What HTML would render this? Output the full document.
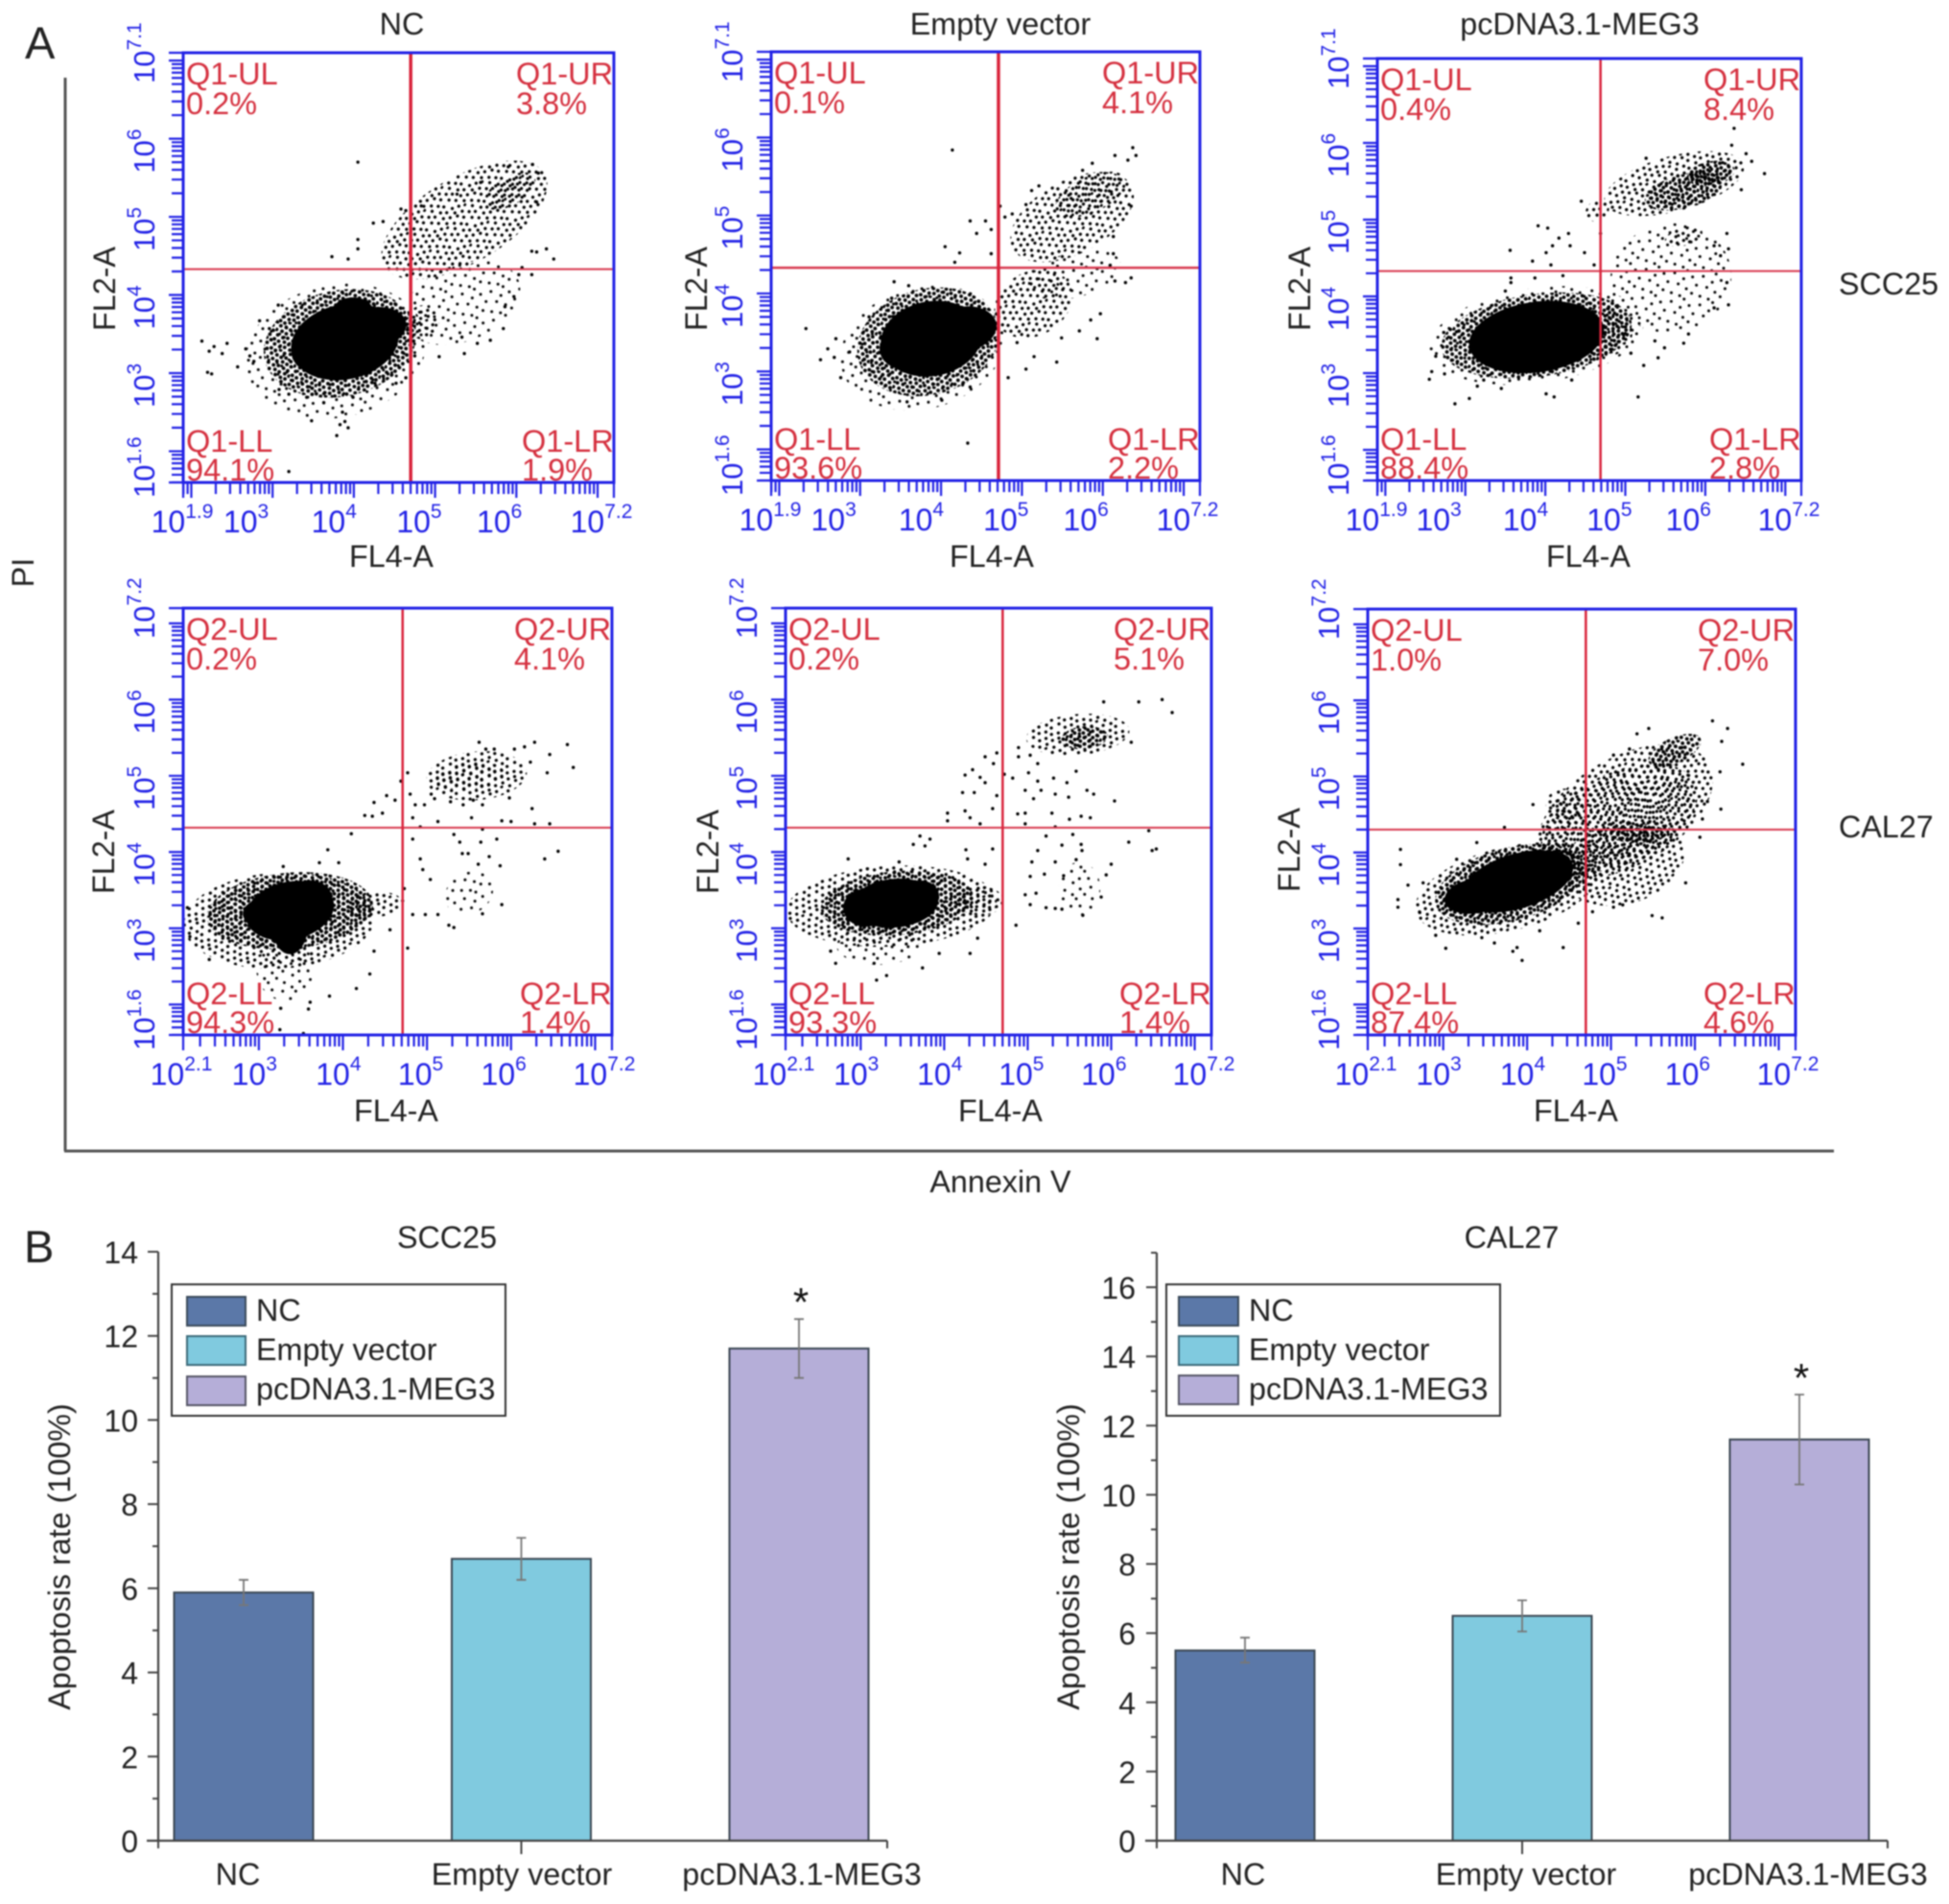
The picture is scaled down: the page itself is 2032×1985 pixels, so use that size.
<!DOCTYPE html>
<html lang="en">
<head>
<meta charset="utf-8">
<title>Apoptosis flow cytometry and bar charts</title>
<style>
html,body{margin:0;padding:0;background:#fff;}
#figure{display:block;filter:blur(.7px);font-family:"Liberation Sans",Arial,sans-serif;}
.lab{font-size:32.3px;fill:#222;}
.big{font-size:47px;fill:#222;}
</style>
</head>
<body>
<svg id="figure" xmlns="http://www.w3.org/2000/svg" width="2032" height="1985" viewBox="0 0 2032 1985">
<defs>
<pattern id="dots-sparse" patternUnits="userSpaceOnUse" width="30" height="30" patternTransform="rotate(17)"><path d="M3 4h0M14 2h0M24 7h0M8 12h0M19 13h0M28 17h0M4 21h0M13 23h0M22 25h0M27 28h0" stroke="#000" stroke-width="3" stroke-linecap="round" fill="none"/></pattern>
<pattern id="dots-medium" patternUnits="userSpaceOnUse" width="30" height="30" patternTransform="rotate(-23)"><path d="M2 3h0M9 1h0M17 4h0M25 2h0M6 9h0M13 8h0M21 10h0M28 8h0M3 15h0M10 14h0M17 16h0M24 15h0M7 21h0M14 22h0M21 21h0M28 23h0M4 27h0M12 28h0M19 27h0M26 28h0" stroke="#000" stroke-width="3.3" stroke-linecap="round" fill="none"/></pattern>
<pattern id="dots-dense" patternUnits="userSpaceOnUse" width="30" height="30" patternTransform="rotate(31)"><path d="M2 2h0M7 3h0M12 1h0M17 3h0M23 2h0M28 4h0M4 7h0M10 7h0M15 8h0M20 7h0M26 9h0M1 12h0M7 12h0M12 13h0M18 12h0M23 13h0M28 14h0M4 17h0M10 18h0M15 17h0M21 18h0M26 19h0M2 22h0M7 23h0M13 22h0M18 23h0M24 23h0M29 24h0M4 27h0M10 28h0M15 27h0M21 28h0M26 28h0" stroke="#000" stroke-width="3.8" stroke-linecap="round" fill="none"/></pattern>
</defs>

<text class="big" x="26" y="61">A</text>
<text class="big" x="25" y="1316">B</text>

<text class="lab" x="419" y="36" text-anchor="middle">NC</text>
<text class="lab" x="1043" y="36" text-anchor="middle">Empty vector</text>
<text class="lab" x="1647" y="36" text-anchor="middle">pcDNA3.1-MEG3</text>
<text class="lab" x="1917" y="307">SCC25</text>
<text class="lab" x="1917" y="873">CAL27</text>

<line x1="68" y1="81" x2="68" y2="1200" stroke="#555" stroke-width="3"/>
<line x1="67" y1="1200" x2="1912" y2="1200" stroke="#555" stroke-width="3"/>
<text class="lab" x="35" y="597" text-anchor="middle" transform="rotate(-90 35 597)">PI</text>
<text class="lab" x="1043" y="1243" text-anchor="middle">Annexin V</text>

<text class="lab" x="408" y="591" text-anchor="middle">FL4-A</text>
<text class="lab" x="1034" y="591" text-anchor="middle">FL4-A</text>
<text class="lab" x="1656" y="591" text-anchor="middle">FL4-A</text>
<text class="lab" x="413" y="1169" text-anchor="middle">FL4-A</text>
<text class="lab" x="1043" y="1169" text-anchor="middle">FL4-A</text>
<text class="lab" x="1643" y="1169" text-anchor="middle">FL4-A</text>
<text class="lab" x="120" y="301" text-anchor="middle" transform="rotate(-90 120 301)">FL2-A</text>
<text class="lab" x="737" y="301" text-anchor="middle" transform="rotate(-90 737 301)">FL2-A</text>
<text class="lab" x="1366" y="301" text-anchor="middle" transform="rotate(-90 1366 301)">FL2-A</text>
<text class="lab" x="119" y="888" text-anchor="middle" transform="rotate(-90 119 888)">FL2-A</text>
<text class="lab" x="749" y="888" text-anchor="middle" transform="rotate(-90 749 888)">FL2-A</text>
<text class="lab" x="1355" y="886" text-anchor="middle" transform="rotate(-90 1355 886)">FL2-A</text>

<g id="flow-panels"></g>

<text class="lab" x="466" y="1301" text-anchor="middle">SCC25</text>
<text class="lab" x="1576" y="1301" text-anchor="middle">CAL27</text>
<text class="lab" x="73" y="1623" text-anchor="middle" transform="rotate(-90 73 1623)">Apoptosis rate (100%)</text>
<text class="lab" x="1125" y="1623" text-anchor="middle" transform="rotate(-90 1125 1623)">Apoptosis rate (100%)</text>

<g id="bar-charts"></g>

<g>
<rect x="179" y="1339" width="348" height="137" fill="#fff" stroke="#333" stroke-width="2"/>
<rect x="195" y="1352" width="61" height="30" fill="#5b78a8" stroke="#3b4a5a" stroke-width="2"/>
<rect x="195" y="1393" width="61" height="30" fill="#80cadf" stroke="#3b6a7a" stroke-width="2"/>
<rect x="195" y="1435" width="61" height="30" fill="#b5aed8" stroke="#555566" stroke-width="2"/>
<text class="lab" x="267" y="1377">NC</text>
<text class="lab" x="267" y="1418">Empty vector</text>
<text class="lab" x="267" y="1459">pcDNA3.1-MEG3</text>
</g>
<g>
<rect x="1216" y="1339" width="348" height="137" fill="#fff" stroke="#333" stroke-width="2"/>
<rect x="1229" y="1352" width="62" height="30" fill="#5b78a8" stroke="#3b4a5a" stroke-width="2"/>
<rect x="1229" y="1393" width="62" height="30" fill="#80cadf" stroke="#3b6a7a" stroke-width="2"/>
<rect x="1229" y="1434" width="62" height="30" fill="#b5aed8" stroke="#555566" stroke-width="2"/>
<text class="lab" x="1302" y="1377">NC</text>
<text class="lab" x="1302" y="1418">Empty vector</text>
<text class="lab" x="1302" y="1459">pcDNA3.1-MEG3</text>
</g>
</svg>

<script>
/* ---------- tick labels ---------- */
const xTicksRow1=['1.9','3','4','5','6','7.2'];
const xTicksRow2=['2.1','3','4','5','6','7.2'];
const yTicksRow1=['1.6','3','4','5','6','7.1'];
const yTicksRow2=['1.6','3','4','5','6','7.2'];

/* ---------- quadrant gates and printed percentages ---------- */
const gateNamesQ1=['Q1-UL','Q1-UR','Q1-LL','Q1-LR'];
const gateNamesQ2=['Q2-UL','Q2-UR','Q2-LL','Q2-LR'];
const pctA=['0.2%','3.8%','94.1%','1.9%'];
const pctB=['0.1%','4.1%','93.6%','2.2%'];
const pctC=['0.4%','8.4%','88.4%','2.8%'];
const pctD=['0.2%','4.1%','94.3%','1.4%'];
const pctE=['0.2%','5.1%','93.3%','1.4%'];
const pctF=['1.0%','7.0%','87.4%','4.6%'];
const gateA=[4.70,4.33];
const gateB=[4.71,4.33];
const gateC=[4.69,4.33];
const gateD=[4.71,4.32];
const gateE=[4.70,4.32];
const gateF=[4.70,4.30];

/* ---------- dense populations, in log10 fluorescence units (level 0-2 speckle, 3 saturated) ---------- */
const regAX=[5.33,5.36,3.78,3.83,5.92,4.85,3.89,4.22,3.99,3.51];
const regAY=[3.9,4.96,3.28,3.38,5.33,3.65,3.40,3.57,3.81,3.28];
const regARx=[.75,1.14,1.12,.95,.35,.2,.67,.43,.24,.28];
const regARy=[.49,.55,.85,.68,.18,.22,.48,.27,.16,.27];
const regATilt=[-22,-30,-12,-12,-30,0,-12,-10,0,0];
const regALevel=[0,1,0,2,1,1,3,3,3,3];

const regBX=[5.65,5.14,3.77,3.84,5.62,5.85,3.88,4.27,3.56];
const regBY=[4.24,3.87,3.3,3.38,4.98,5.27,3.42,3.54,3.29];
const regBRx=[.59,.51,1.03,.89,.83,.47,.63,.42,.32];
const regBRy=[.29,.41,.78,.68,.47,.23,.48,.29,.27];
const regBTilt=[-15,-30,-15,-15,-28,-25,-10,-10,0];
const regBLevel=[0,1,0,2,1,1,3,3,3];

const regCX=[5.57,5.61,5.73,3.89,3.89,4.69,5.73,6.07,4.65,3.89,3.45,4.33];
const regCY=[4.24,5.47,4.78,3.49,3.49,3.53,5.37,5.6,5.12,3.47,3.39,3.57];
const regCRx=[.76,.9,.24,1.35,1.2,.4,.5,.3,.16,.85,.36,.36];
const regCRy=[.71,.36,.12,.62,.54,.33,.22,.16,.13,.46,.25,.27];
const regCTilt=[-10,-15,-15,-8,-8,0,-15,-10,-35,-8,0,0];
const regCLevel=[0,1,1,0,2,1,2,2,1,3,3,3];

const regDX=[5.5,3.31,3.24,3.37,4.37,5.59,5.5,3.37,3.37,3.6,3.04];
const regDY=[3.46,2.47,3.1,3.23,3.31,5.0,5.0,3.23,3.02,3.4,3.19];
const regDRx=[.3,.34,1.14,.99,.34,.6,.42,.53,.21,.27,.23];
const regDRy=[.27,.42,.63,.5,.17,.32,.18,.38,.36,.23,.19];
const regDTilt=[-30,0,-3,-5,-5,-5,-5,-12,0,0,0];
const regDLevel=[0,0,1,2,1,1,1,3,3,3,3];

const regEX=[5.62,3.21,3.37,3.44,4.44,5.6,5.68,3.41,3.06,3.71];
const regEY=[3.52,2.77,3.29,3.33,3.36,5.54,5.5,3.33,3.27,3.42];
const regERx=[.25,.5,1.26,.92,.27,.62,.28,.52,.27,.23];
const regERy=[.35,.25,.53,.42,.19,.27,.15,.32,.25,.21];
const regETilt=[0,0,-3,-5,0,-5,-5,-5,0,0];
const regELevel=[0,0,1,2,1,1,2,3,3,3];

const regFX=[3.77,5.17,5.1,5.14,3.8,5.76,5.32,4.45,3.88,3.39,4.23];
const regFY=[3.52,4.54,4.45,3.87,3.58,5.34,4.25,4.63,3.62,3.43,3.77];
const regFRx=[1.13,1.15,1.0,.75,.92,.34,.34,.23,.69,.38,.32];
const regFRy=[.55,.71,.6,.55,.48,.17,.13,.21,.36,.23,.25];
const regFTilt=[-14,-30,-25,-15,-15,-25,0,0,-17,-10,-10];
const regFLevel=[1,1,1,1,2,2,2,1,3,3,3];

/* ---------- individually readable events, in log10 fluorescence units ---------- */
const evAX=[4.05,2.13,2.28,2.44,2.38,2.22,2.20,2.25,2.57,2.67,2.72,2.77,2.84,3.07,2.96,3.20,3.48,3.79,3.86,3.89,3.93,3.83,3.73,3.93,4.05,4.05,4.24,4.36,4.58,4.83,4.64,5.05,5.36,5.52,5.68,5.84,4.64,4.52,6.46,6.37,6.19,6.25,6.07,6.19,6.03,6.20,5.90,5.56,5.27,6.27,6.25,5.97,5.86,5.33,4.75,3.63,3.99,3.42,3.2,3.08,4.26,4.42];
const evAY=[5.70,3.41,3.34,3.38,3.25,3.28,3.01,2.99,3.08,3.31,3.22,3.15,3.67,3.87,3.57,1.74,2.39,2.20,2.50,2.38,2.30,2.34,4.49,4.46,4.71,4.59,4.92,4.94,5.10,5.14,5.08,3.21,3.25,3.38,3.42,3.57,2.94,2.87,4.46,4.59,4.56,4.55,4.35,4.26,4.26,5.67,5.64,5.44,5.29,5.56,5.19,3.98,3.85,3.46,3.22,2.62,2.69,2.69,2.73,2.79,2.87,2.99];

const evBX=[4.14,2.33,2.51,2.70,2.60,2.68,2.76,2.87,3.11,3.42,3.60,3.39,4.33,3.58,4.01,4.27,4.36,4.83,5.05,5.43,5.15,4.94,5.93,5.49,5.71,5.97,5.85,4.05,4.36,4.55,4.44,4.23,4.17,4.62,4.62,6.37,6.41,6.31,6.15,5.87,5.75,5.21,5.12,6.35,6.35,6.28,6.15,6.13,6.13,4.73,4.79,4.88,5.05,5.93,6.09];
const evBY=[5.84,3.55,3.15,3.42,3.29,3.18,2.92,3.25,3.70,4.15,4.10,3.94,2.08,2.61,2.63,2.84,2.80,2.92,3.03,3.12,3.19,3.37,3.42,3.43,3.52,3.74,3.66,4.60,4.93,4.93,4.77,4.52,4.40,4.82,4.51,5.87,5.77,5.71,5.77,5.67,5.58,5.38,5.32,5.12,4.20,4.14,4.16,4.51,4.73,5.12,4.98,5.02,5.14,4.32,4.36];

const evCX=[6.36,6.74,6.58,6.51,6.33,5.26,6.45,3.91,4.03,3.56,3.84,3.57,3.57,3.50,3.87,4.01,4.09,4.17,4.29,4.07,4.31,4.45,4.49,4.61,4.22,4.69,6.27,6.29,6.19,6.11,6.27,6.29,6.11,5.79,5.73,5.37,5.49,5.41,5.23,5.16,5.07,2.87,3.05,2.55,2.58,2.74,3.15,3.23,3.45,4.01,4.11,4.33,2.63,2.73,2.89];
const evCY=[6.19,5.60,5.76,5.86,5.97,5.80,5.39,4.92,4.89,4.60,4.46,4.24,4.18,4.07,4.24,4.57,4.66,4.76,4.82,4.41,4.66,5.24,4.57,4.41,4.27,4.82,4.82,4.62,4.53,4.66,4.18,3.89,3.85,3.51,3.39,3.42,3.33,3.20,3.10,2.69,3.26,2.60,2.67,2.92,3.02,2.99,2.83,2.91,2.80,2.73,2.69,2.91,3.22,3.53,3.54];

const evDX=[5.62,6.28,6.67,6.46,6.74,6.43,6.23,6.16,6.04,5.80,5.70,4.69,4.77,4.80,4.52,4.62,4.37,4.26,4.35,4.47,4.86,4.97,5.09,5.05,5.28,5.43,5.55,5.66,5.98,6.25,4.83,5.13,5.53,5.89,6.00,6.28,6.46,4.92,5.66,5.32,4.83,5.83,5.39,5.64,6.56,6.40,4.92,4.95,5.04,5.42,5.49,5.87,5.74,5.61,5.89,5.26,5.32,4.83,4.98,5.13,5.66,4.77,4.73,4.71,4.10,3.82,3.95,3.72,3.29,4.16,3.84,3.61,3.59,3.26,2.41,4.32,3.25,4.37,4.56,2.15,2.18,3.53];
const evDY=[5.44,5.44,5.41,5.28,5.11,5.04,5.18,5.38,5.35,5.35,5.35,4.93,5.04,4.76,4.74,4.68,4.65,4.48,4.47,4.51,4.62,4.62,4.70,4.76,4.66,4.62,4.68,4.62,4.71,4.57,4.45,4.40,4.45,4.41,4.40,4.37,4.37,4.33,4.30,4.23,4.17,4.17,4.13,4.13,4.01,3.91,3.91,3.77,3.64,3.98,3.98,3.82,3.94,3.84,3.31,3.04,3.01,3.18,3.18,3.18,3.19,2.74,3.52,3.36,4.24,4.03,3.86,3.86,3.81,2.21,2.11,2.03,1.94,1.95,2.59,2.40,1.67,2.70,2.98,3.27,2.89,1.62];

const evEX=[6.61,6.73,6.33,5.91,6.24,6.04,6.45,6.21,6.49,6.54,6.00,5.94,5.88,4.86,3.71,3.83,3.77,3.63,2.85,3.08,3.46,4.49,4.63,4.59,4.34,4.25,4.43,4.49,4.22,4.36,4.63,4.04,4.04,4.25,4.31,4.43,4.58,4.72,4.82,4.89,4.89,5.03,5.12,5.01,5.12,5.31,5.47,5.58,4.97,5.07,5.16,5.33,5.49,5.71,5.79,4.88,4.97,5.29,5.64,5.75,4.97,5.33,5.50,5.22,5.54,5.64,5.41,5.12,5.65,4.26,4.28,4.58,4.49,5.05,5.33,5.58,5.03,5.20,5.43,4.97,5.10,5.03,5.22,5.33,5.41,5.66,3.94,4.31,3.74,2.70,3.19,3.31,3.16,2.64,4.40];
const evEY=[6.00,5.83,5.97,5.97,5.44,4.67,4.28,4.13,4.02,4.04,3.84,3.70,3.41,3.04,4.21,4.17,4.08,4.10,3.91,3.78,3.87,5.25,5.30,5.16,5.08,5.01,4.98,4.91,4.78,4.78,4.74,4.51,4.41,4.54,4.45,4.37,4.57,5.02,4.97,5.37,5.25,5.27,5.16,5.04,4.93,4.97,4.91,5.06,4.81,4.70,4.81,4.76,4.72,4.81,4.76,4.50,4.51,4.51,4.47,4.45,4.37,4.33,4.43,4.21,4.23,4.10,4.09,4.02,4.02,4.03,3.91,4.04,3.84,3.87,3.87,3.90,3.68,3.71,3.69,3.44,3.46,3.31,3.27,3.26,3.25,3.17,2.67,2.67,2.48,2.54,2.32,2.38,2.54,2.70,2.87];

const evFX=[2.49,2.49,2.58,2.46,2.46,2.72,2.76,2.91,3.03,3.61,3.83,3.88,3.94,4.43,3.40,3.16,3.73,4.07,5.31,5.45,6.21,6.39,6.32,6.57,6.30,6.31,6.15,6.09,6.06,5.89,5.49,5.61,5.14,5.03,4.78,4.61,4.15,3.46,5.03,5.22];
const evFY=[4.04,3.84,3.57,3.38,3.28,3.21,3.60,2.91,2.74,2.81,2.70,2.75,2.58,2.75,4.13,3.91,4.33,4.63,5.56,5.63,5.73,5.63,5.46,5.16,5.06,4.57,4.67,4.44,4.20,3.60,3.17,3.14,3.31,3.28,3.22,3.07,2.97,2.88,5.28,5.36];

/* ---------- bar chart values ---------- */
const barCategories=['NC','Empty vector','pcDNA3.1-MEG3'];
const scc25Mean=[5.9,6.7,11.7];
const scc25Upper=[6.2,7.2,12.4];
const scc25Lower=[5.6,6.2,11.0];
const cal27Mean=[5.5,6.5,11.6];
const cal27Upper=[5.87,6.95,12.9];
const cal27Lower=[5.15,6.05,10.3];
const scc25YTicks=[0,2,4,6,8,10,12,14];
const scc25YMinor=[1,3,5,7,9,11,13];
const cal27YTicks=[0,2,4,6,8,10,12,14,16];
const cal27YMinor=[1,3,5,7,9,11,13,15,17];
const significantBars=[2];

/* ---------- layout (not data) ---------- */
const NS='http://www.w3.org/2000/svg';
const BLUE='#2222e6',RED='#d9243c';
const levelFill=['url(#dots-sparse)','url(#dots-medium)','url(#dots-dense)','#000'];
const barFill=['#5b78a8','#80cadf','#b5aed8'];
const labelNudgeRow1=[-1,-4,3,7,6,-13];
const labelNudgeRow2=[-2,19,19,17,16,-8];
const flowPanels=[
 {id:'a',left:191,right:640,top:55,bottom:503,xMin:1.9,xMax:7.2,yMin:1.6,yMax:7.1,nudge:labelNudgeRow1,vW:3.5,hW:2,xt:xTicksRow1,yt:yTicksRow1,names:gateNamesQ1,pct:pctA,gate:gateA,rx:regAX,ry:regAY,rrx:regARx,rry:regARy,rt:regATilt,rl:regALevel,ex:evAX,ey:evAY},
 {id:'b',left:804,right:1251,top:54,bottom:501,xMin:1.9,xMax:7.2,yMin:1.6,yMax:7.1,nudge:labelNudgeRow1,vW:3.5,hW:2.5,xt:xTicksRow1,yt:yTicksRow1,names:gateNamesQ1,pct:pctB,gate:gateB,rx:regBX,ry:regBY,rrx:regBRx,rry:regBRy,rt:regBTilt,rl:regBLevel,ex:evBX,ey:evBY},
 {id:'c',left:1436,right:1878,top:61,bottom:501,xMin:1.9,xMax:7.2,yMin:1.6,yMax:7.1,nudge:labelNudgeRow1,vW:2.5,hW:2,xt:xTicksRow1,yt:yTicksRow1,names:gateNamesQ1,pct:pctC,gate:gateC,rx:regCX,ry:regCY,rrx:regCRx,rry:regCRy,rt:regCTilt,rl:regCLevel,ex:evCX,ey:evCY},
 {id:'d',left:191,right:638,top:634,bottom:1079,xMin:2.1,xMax:7.2,yMin:1.6,yMax:7.2,nudge:labelNudgeRow2,vW:2.5,hW:2,xt:xTicksRow2,yt:yTicksRow2,names:gateNamesQ2,pct:pctD,gate:gateD,rx:regDX,ry:regDY,rrx:regDRx,rry:regDRy,rt:regDTilt,rl:regDLevel,ex:evDX,ey:evDY},
 {id:'e',left:819,right:1263,top:634,bottom:1079,xMin:2.1,xMax:7.2,yMin:1.6,yMax:7.2,nudge:labelNudgeRow2,vW:2.5,hW:2,xt:xTicksRow2,yt:yTicksRow2,names:gateNamesQ2,pct:pctE,gate:gateE,rx:regEX,ry:regEY,rrx:regERx,rry:regERy,rt:regETilt,rl:regELevel,ex:evEX,ey:evEY},
 {id:'f',left:1426,right:1872,top:635,bottom:1079,xMin:2.1,xMax:7.2,yMin:1.6,yMax:7.2,nudge:labelNudgeRow2,vW:2.5,hW:2,xt:xTicksRow2,yt:yTicksRow2,names:gateNamesQ2,pct:pctF,gate:gateF,rx:regFX,ry:regFY,rrx:regFRx,rry:regFRy,rt:regFTilt,rl:regFLevel,ex:evFX,ey:evFY}
];
const barCharts=[
 {x0:165,x1:925,center0:254,step:289.5,width:145,y0:1919,yTop:1305,yMax:14,labelRight:144,mean:scc25Mean,upper:scc25Upper,lower:scc25Lower,ticks:scc25YTicks,minor:scc25YMinor,catX:[248,544,836]},
 {x0:1206,x1:1968,center0:1298,step:289,width:145,y0:1919,yTop:1306,yMax:17,labelRight:1184,mean:cal27Mean,upper:cal27Upper,lower:cal27Lower,ticks:cal27YTicks,minor:cal27YMinor,catX:[1296,1591,1885]}
];

function make(tag,attrs){
 const el=document.createElementNS(NS,tag);
 for(const k in attrs){el.setAttribute(k,attrs[k]);}
 return el;
}

/* axis functions */
function xScale(p,v){return p.left+(v-p.xMin)/(p.xMax-p.xMin)*(p.right-p.left);}
function yScale(p,v){return p.bottom-(v-p.yMin)/(p.yMax-p.yMin)*(p.bottom-p.top);}
function logTicks(lo,hi){
 const out=[];
 for(let d=Math.floor(lo);d<=Math.floor(hi);d++){
  for(let m=1;m<=9;m++){
   const v=d+Math.log10(m);
   if(v>=lo&&v<=hi){out.push({v:v,major:m===1});}
  }
 }
 out.push({v:lo,major:true});
 out.push({v:hi,major:true});
 return out;
}

function drawFlowRegions(g,p){
 for(let i=0;i<p.rx.length;i++){
  const cx=xScale(p,p.rx[i]),cy=yScale(p,p.ry[i]);
  const pxX=(p.right-p.left)/(p.xMax-p.xMin),pxY=(p.bottom-p.top)/(p.yMax-p.yMin);
  const el=make('ellipse',{cx:cx,cy:cy,rx:p.rrx[i]*pxX,ry:p.rry[i]*pxY,fill:levelFill[p.rl[i]],transform:'rotate('+p.rt[i]+' '+cx+' '+cy+')'});
  
  
  g.appendChild(el);
 }
}
function drawFlowEvents(g,p){
 for(let i=0;i<p.ex.length;i++){
  const el=make('circle',{cx:xScale(p,p.ex[i]),cy:yScale(p,p.ey[i]),r:1.7,fill:'#000'});
  
  
  g.appendChild(el);
 }
}
function drawGate(g,p){
 const gx=xScale(p,p.gate[0]),gy=yScale(p,p.gate[1]);
 const h=make('line',{x1:p.left,x2:p.right,y1:gy,y2:gy,stroke:'#d83a50','stroke-width':p.hW});
 
 
 g.appendChild(h);
 const v=make('line',{x1:gx,x2:gx,y1:p.top,y2:p.bottom,stroke:RED,'stroke-width':p.vW});
 
 
 g.appendChild(v);
}
function redText(g,x,y,s,anchor){
 const t=make('text',{x:x,y:y,'text-anchor':anchor,'font-size':32.5,fill:'#d5303f'});
 t.textContent=s;
 
 
 g.appendChild(t);
}
function drawQuadrantText(g,p){
 const lx=p.left+3;
 const urStart=p.right-102,lrStart=p.right-96;
 redText(g,lx,p.top+33,p.names[0],'start');
 redText(g,lx,p.top+64,p.pct[0],'start');
 redText(g,urStart,p.top+33,p.names[1],'start');
 redText(g,urStart,p.top+64,p.pct[1],'start');
 redText(g,lx,p.bottom-32,p.names[2],'start');
 redText(g,lx,p.bottom-2,p.pct[2],'start');
 redText(g,lrStart,p.bottom-32,p.names[3],'start');
 redText(g,lrStart,p.bottom-2,p.pct[3],'start');
}
function drawFrameAndTicks(g,p){
 const frame=make('rect',{x:p.left,y:p.top,width:p.right-p.left,height:p.bottom-p.top,fill:'none',stroke:BLUE,'stroke-width':3});
 
 
 g.appendChild(frame);
 let dx='';
 logTicks(p.xMin,p.xMax).forEach(function(t){const x=xScale(p,t.v);dx+='M'+x+' '+p.bottom+'v'+(t.major?16:12);});
 const xt=make('path',{d:dx,stroke:BLUE,'stroke-width':2.2,fill:'none'});
 
 
 g.appendChild(xt);
 let dy='';
 logTicks(p.yMin,p.yMax).forEach(function(t){const y=yScale(p,t.v);dy+='M'+p.left+' '+y+'h'+(t.major?-15:-12);});
 const yt=make('path',{d:dy,stroke:BLUE,'stroke-width':2.2,fill:'none'});
 
 
 g.appendChild(yt);
}
function drawXTickLabels(g,p){
 p.xt.forEach(function(exp,i){
  const v=parseFloat(exp),end=(i===0||i===p.xt.length-1);
  const x=xScale(p,v)+p.nudge[i];
  const t=make('text',{x:x,y:p.bottom+52,'text-anchor':end?'middle':'end','font-size':32,fill:BLUE});
  t.appendChild(document.createTextNode('10'));
  const s=make('tspan',{dy:-15,'font-size':21});
  s.textContent=exp;
  t.appendChild(s);
  
  
  g.appendChild(t);
 });
}
function drawYTickLabels(g,p){
 p.yt.forEach(function(exp,i){
  const v=parseFloat(exp),y0=yScale(p,v);
  const y=(i===0)?y0+16:(i===p.yt.length-1?y0+32:y0+36);
  const x=p.left-30;
  const t=make('text',{x:x,y:y,'font-size':31,fill:BLUE,transform:'rotate(-90 '+x+' '+y+')'});
  t.appendChild(document.createTextNode('10'));
  const s=make('tspan',{dy:-14,'font-size':21});
  s.textContent=exp;
  t.appendChild(s);
  
  
  g.appendChild(t);
 });
}

const flowRoot=document.getElementById('flow-panels');
flowPanels.forEach(function(p){
 const g=make('g',{});
 
 
 const clip=make('clipPath',{id:'clip-'+p.id});
 clip.appendChild(make('rect',{x:p.left,y:p.top,width:p.right-p.left,height:p.bottom-p.top}));
 g.appendChild(clip);
 const scatter=make('g',{'clip-path':'url(#clip-'+p.id+')'});
 
 
 drawFlowRegions(scatter,p);
 drawFlowEvents(scatter,p);
 g.appendChild(scatter);
 drawGate(g,p);
 drawQuadrantText(g,p);
 drawFrameAndTicks(g,p);
 drawXTickLabels(g,p);
 drawYTickLabels(g,p);
 flowRoot.appendChild(g);
});

/* ---------- bar charts ---------- */
function barY(c,v){return c.y0-v/c.yMax*(c.y0-c.yTop);}
function barCenter(c,i){return c.center0+i*c.step;}
const barRoot=document.getElementById('bar-charts');
barCharts.forEach(function(c){
 const g=make('g',{});
 
 
 c.mean.forEach(function(m,i){
  const top=barY(c,m);
  const r=make('rect',{x:barCenter(c,i)-c.width/2,y:top,width:c.width,height:c.y0-top,fill:barFill[i],stroke:'#3a4652','stroke-width':2});
  
  
  g.appendChild(r);
  const cx=barCenter(c,i),yU=barY(c,c.upper[i]),yL=barY(c,c.lower[i]);
  const e=make('path',{d:'M'+(cx-5)+' '+yU+'h10M'+cx+' '+yU+'V'+yL+'M'+(cx-5)+' '+yL+'h10',stroke:'#777','stroke-width':1.8,fill:'none'});
  
  
  g.appendChild(e);
 });
 const yAxis=make('line',{x1:c.x0,x2:c.x0,y1:c.yTop,y2:c.y0,stroke:'#444','stroke-width':2.2});
 
 
 g.appendChild(yAxis);
 const xAxis=make('line',{x1:c.x0-12,x2:c.x1,y1:c.y0,y2:c.y0,stroke:'#444','stroke-width':2.2});
 
 
 g.appendChild(xAxis);
 let d='M'+c.x0+' '+c.y0+'v8M'+c.x1+' '+c.y0+'v8M'+barCenter(c,1)+' '+c.y0+'v14';
 c.ticks.forEach(function(v){d+='M'+c.x0+' '+barY(c,v)+'h-11';});
 c.minor.forEach(function(v){d+='M'+c.x0+' '+barY(c,v)+'h-6';});
 const ticks=make('path',{d:d,stroke:'#444','stroke-width':2,fill:'none'});
 
 
 g.appendChild(ticks);
 c.ticks.forEach(function(v){
  const t=make('text',{x:c.labelRight,y:barY(c,v)+12,'text-anchor':'end','font-size':32,fill:'#222'});
  t.textContent=String(v);
  
  
  g.appendChild(t);
 });
 barCategories.forEach(function(name,i){
  const t=make('text',{x:c.catX[i],y:1965,'text-anchor':'middle','font-size':32.3,fill:'#222'});
  t.textContent=name;
  
  
  g.appendChild(t);
 });
 significantBars.forEach(function(i){
  const t=make('text',{x:barCenter(c,i)+2,y:barY(c,c.upper[i])-3,'text-anchor':'middle','font-size':42,fill:'#111'});
  t.textContent='*';
  
  
  g.appendChild(t);
 });
 barRoot.appendChild(g);
});
</script>
</body>
</html>
